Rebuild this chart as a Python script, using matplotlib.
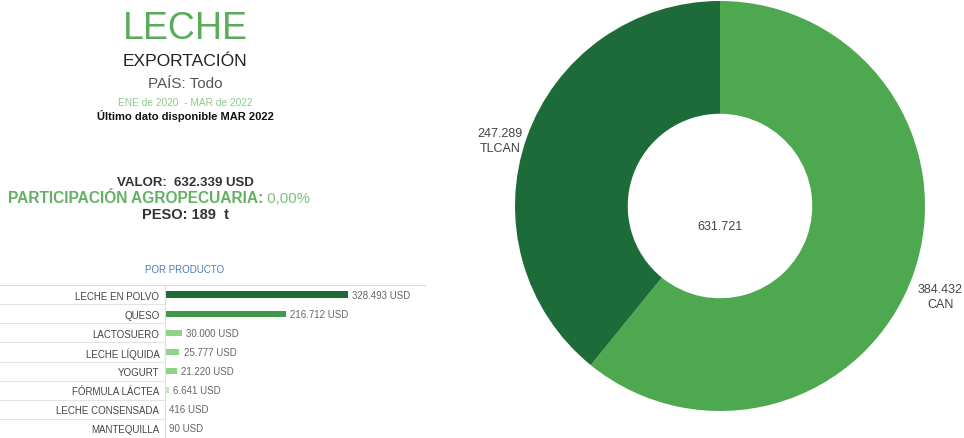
import matplotlib
matplotlib.use("Agg")
import matplotlib.pyplot as plt
import matplotlib.transforms as mtransforms
import numpy as np

plt.rcParams['font.family'] = ['Liberation Sans', 'DejaVu Sans']

# ---------------- data ----------------
products = ["LECHE EN POLVO", "QUESO", "LACTOSUERO", "LECHE LÍQUIDA", "YOGURT",
            "FÓRMULA LÁCTEA", "LECHE CONSENSADA", "MANTEQUILLA"]
product_values = [328493, 216712, 30000, 25777, 21220, 6641, 416, 90]
product_colors = ["#1d6a36", "#3e9a48", "#8fd38b", "#8fd38b", "#8fd38b", "#c8e6c4", "#c8e6c4", "#c8e6c4"]

blocs = ["CAN", "TLCAN"]
bloc_values = [384432, 247289]
bloc_colors = ["#4ea84f", "#1e6b3a"]
donut_total_label = "631.721"

title = "LECHE"
subtitle = "EXPORTACIÓN"
country = "PAÍS: Todo"
period = "ENE de 2020  - MAR de 2022"
last_data = "Último dato disponible MAR 2022"
valor = "VALOR:  632.339 USD"
particip_label = "PARTICIPACIÓN AGROPECUARIA:"
particip_value = " 0,00%"
peso = "PESO: 189  t"
section = "POR PRODUCTO"


def fmt(v):
    return f"{v:,}".replace(",", ".")


W, H = 964, 439
fig = plt.figure(figsize=(W / 100, H / 100), dpi=100)
fig.patch.set_facecolor("white")


def fx(px):
    return px / W


def fy(py):
    return 1 - py / H


# ---------------- header texts ----------------
cx = 185
fig.text(fx(cx), fy(29), title, ha="center", va="center", fontsize=27, color="#5aab5c")
fig.text(fx(cx), fy(61), subtitle, ha="center", va="center", fontsize=12.5, color="#222222",
         fontweight="medium")
fig.text(fx(cx), fy(84), country, ha="center", va="center", fontsize=11, color="#555555")
fig.text(fx(cx), fy(103), period, ha="center", va="center", fontsize=7.3, color="#8cc98c")
fig.text(fx(cx), fy(116), last_data, ha="center", va="center", fontsize=8, color="#111111",
         fontweight="bold")

fig.text(fx(cx), fy(183), valor, ha="center", va="center", fontsize=9.5, color="#333333",
         fontweight="bold")
t1 = fig.text(fx(8), fy(199), particip_label, ha="left", va="center", fontsize=11.2,
              color="#62b064", fontweight="bold")
fig.canvas.draw()
bb = t1.get_window_extent()
fig.text(bb.x1 / W, fy(199), particip_value, ha="left", va="center", fontsize=10.8,
         color="#7cc07c")
fig.text(fx(cx), fy(215), peso, ha="center", va="center", fontsize=10.5, color="#333333",
         fontweight="bold")
fig.text(fx(cx), fy(270), section, ha="center", va="center", fontsize=7, color="#4d7db3")

# ---------------- bar chart ----------------
ax = fig.add_axes([fx(165), 0, fx(260), 153 / H])
y = np.arange(len(products))
ax.barh(y, product_values, height=0.33, color=product_colors)
ax.set_ylim(len(products) - 0.5, -0.5)
ax.set_xlim(0, 466000)
ax.set_yticks(y)
ax.set_yticklabels(products, fontsize=7, color="#444444")
ax.tick_params(axis="y", length=0, pad=4)
ax.set_xticks([])
for s in ["top", "right", "bottom"]:
    ax.spines[s].set_visible(False)
ax.spines["left"].set_color("#dddddd")
ax.spines["left"].set_linewidth(0.8)

for yi, v in zip(y, product_values):
    ax.annotate(f"{fmt(v)} USD", (v, yi), xytext=(3, 0), textcoords="offset points",
                ha="left", va="center", fontsize=7, color="#666666")

trans = mtransforms.blended_transform_factory(ax.transAxes, ax.transData)
left_ext = -165 / 260
ax.plot([left_ext, 1.0], [-0.5, -0.5], transform=trans, color="#dddddd", lw=0.8, clip_on=False)
for yi in y[:-1]:
    ax.plot([left_ext, 0], [yi + 0.5, yi + 0.5], transform=trans, color="#e3e3e3", lw=0.8,
            clip_on=False)

# ---------------- donut ----------------
R = 205
cxp, cyp = 720, 207
ax2 = fig.add_axes([fx(cxp - R), (H - cyp - R) / H, 2 * R / W, 2 * R / H])
wedges, _ = ax2.pie(bloc_values, colors=bloc_colors, startangle=90, counterclock=False,
                    radius=1.0, wedgeprops=dict(width=0.55, linewidth=0))
ax2.set_xlim(-1, 1)
ax2.set_ylim(-1, 1)
ax2.set_aspect("equal")
ax2.axis("off")
ax2.text(0, -0.1, donut_total_label, ha="center", va="center", fontsize=9, color="#444444")
for w, name, v in zip(wedges, blocs, bloc_values):
    ang = np.deg2rad((w.theta1 + w.theta2) / 2)
    r = 1.14
    ax2.text(r * np.cos(ang), r * np.sin(ang) - 0.06, f"{fmt(v)}\n{name}", ha="center",
             va="center", fontsize=9, color="#444444", linespacing=1.35, clip_on=False)

fig.savefig("out.png", dpi=100, facecolor="white")
